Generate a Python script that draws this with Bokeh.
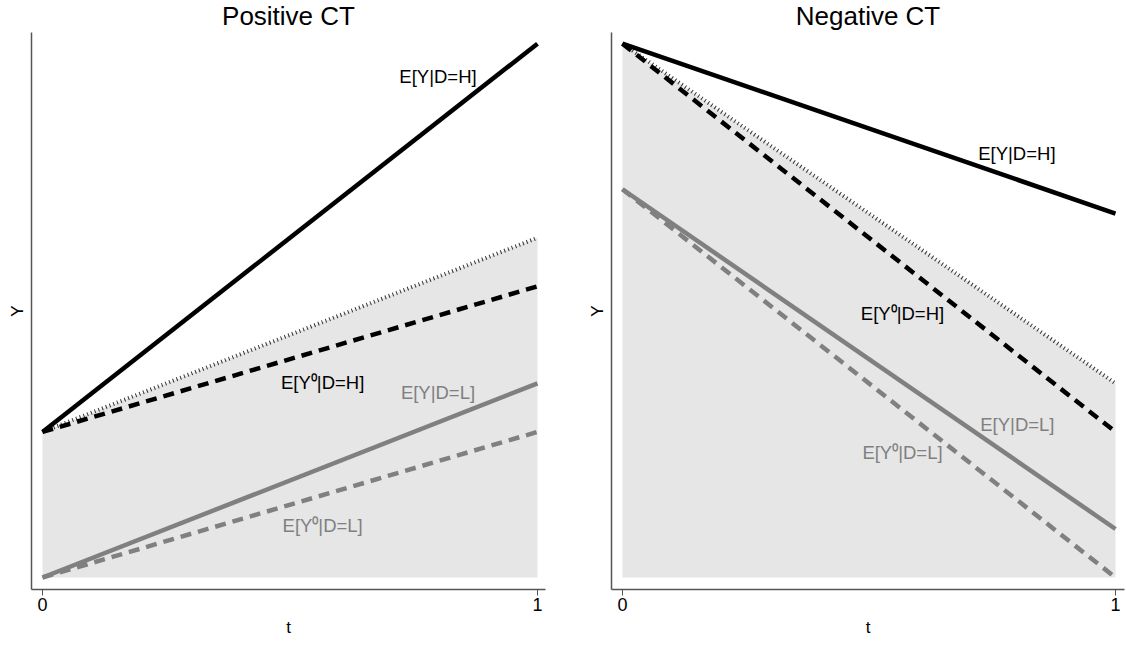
from bokeh.plotting import figure
from bokeh.layouts import row
from bokeh.models import Range1d, FixedTicker
from bokeh.core.properties import value
from bokeh.embed import file_html
from bokeh.resources import INLINE

# ---- data ----
t = [0, 1]
tick_labels = {0: "0", 1: "1"}

# Positive CT panel
pos_y_H = [3, 11]        # E[Y|D=H]
pos_bound = [3, 7]       # dotted upper bound of shaded region
pos_y0_H = [3, 6]        # E[Y0|D=H]
pos_y_L = [0, 4]         # E[Y|D=L]
pos_y0_L = [0, 3]        # E[Y0|D=L]

# Negative CT panel
neg_y_H = [11, 7.5]
neg_bound = [11, 4]
neg_y0_H = [11, 3]
neg_y_L = [8, 1]
neg_y0_L = [8, 0]

pos_labels = ["E[Y|D=H]", "E[Y\u2070|D=H]", "E[Y|D=L]", "E[Y\u2070|D=L]"]
pos_lab_x = [0.799, 0.566, 0.799, 0.566]
pos_lab_y = [10.33, 4.01, 3.81, 1.07]
neg_labels = ["E[Y|D=H]", "E[Y\u2070|D=H]", "E[Y|D=L]", "E[Y\u2070|D=L]"]
neg_lab_x = [0.800, 0.568, 0.801, 0.568]
neg_lab_y = [8.74, 5.43, 3.15, 2.57]
lab_colors = ["black", "black", "#808080", "#808080"]

FONT = "Liberation Sans"
GREY = "#808080"
SHADE = "#e6e6e6"
AXIS = "#555555"


def make_panel(title, yH, bound, y0H, yL, y0L, labels, lx, ly, width, x_end,
               mbl, mbr):
    p = figure(width=width, height=646,
               x_range=Range1d(-0.0222, x_end), y_range=Range1d(-0.247, 11.23),
               output_backend="svg", toolbar_location=None,
               min_border_left=mbl, min_border_right=mbr,
               min_border_top=32, min_border_bottom=57)
    p.title.text = title
    p.title.align = "center"
    p.title.vertical_align = "top"
    p.title.text_font = FONT
    p.title.text_font_size = "26px"
    p.title.text_font_style = "normal"
    p.title.text_color = "black"
    p.title.text_line_height = 1.0
    p.title.standoff = 0
    p.title.offset = 0
    p.outline_line_color = None
    p.xgrid.visible = False
    p.ygrid.visible = False
    p.background_fill_color = "white"
    p.border_fill_color = "white"

    p.varea(x=t, y1=[0, 0], y2=bound, fill_color=SHADE)
    p.line(t, bound, line_color="#333333", line_width=4, line_dash="1 3")
    p.line(t, y0H, line_color="black", line_width=4.5, line_dash="11 7")
    p.line(t, y0L, line_color=GREY, line_width=4.5, line_dash="11 7")
    p.line(t, yL, line_color=GREY, line_width=4.5)
    p.line(t, yH, line_color="black", line_width=4.5)

    p.text(x=lx, y=ly, text=labels, text_color=lab_colors,
           text_font=value(FONT), text_font_size="18.5px",
           text_align="center", text_baseline="middle")

    p.xaxis.ticker = FixedTicker(ticks=t)
    p.xaxis.major_label_overrides = tick_labels
    p.xaxis.minor_tick_line_color = None
    p.xaxis.major_tick_out = 6
    p.xaxis.major_tick_in = 0
    p.xaxis.axis_label = "t"
    p.xaxis.axis_label_text_font = FONT
    p.xaxis.axis_label_text_font_style = "normal"
    p.xaxis.axis_label_text_font_size = "17px"
    p.xaxis.axis_label_text_color = "black"
    p.xaxis.major_label_text_font = FONT
    p.xaxis.major_label_text_font_size = "18px"
    p.xaxis.major_label_text_color = "black"
    p.xaxis.major_label_standoff = 2
    p.xaxis.axis_label_standoff = 4
    p.xaxis.axis_line_color = AXIS
    p.xaxis.axis_line_width = 1.5
    p.xaxis.major_tick_line_color = AXIS

    p.yaxis.ticker = FixedTicker(ticks=[])
    p.yaxis.minor_tick_line_color = None
    p.yaxis.major_tick_line_color = None
    p.yaxis.major_label_text_font_size = "0px"
    p.yaxis.axis_label = "Y"
    p.yaxis.axis_label_text_font = FONT
    p.yaxis.axis_label_text_font_style = "normal"
    p.yaxis.axis_label_text_font_size = "17px"
    p.yaxis.axis_label_text_color = "black"
    p.yaxis.axis_label_standoff = 5
    p.yaxis.axis_line_color = AXIS
    p.yaxis.axis_line_width = 1.5
    return p


p1 = make_panel("Positive CT", pos_y_H, pos_bound, pos_y0_H, pos_y_L, pos_y0_L,
                pos_labels, pos_lab_x, pos_lab_y, 560, 1.0162, 31, 15)
p2 = make_panel("Negative CT", neg_y_H, neg_bound, neg_y0_H, neg_y_L, neg_y0_L,
                neg_labels, neg_lab_x, neg_lab_y, 566, 1.0183, 51, 2)

layout = row(p1, p2)
open("out.html", "w").write(file_html(layout, INLINE))
